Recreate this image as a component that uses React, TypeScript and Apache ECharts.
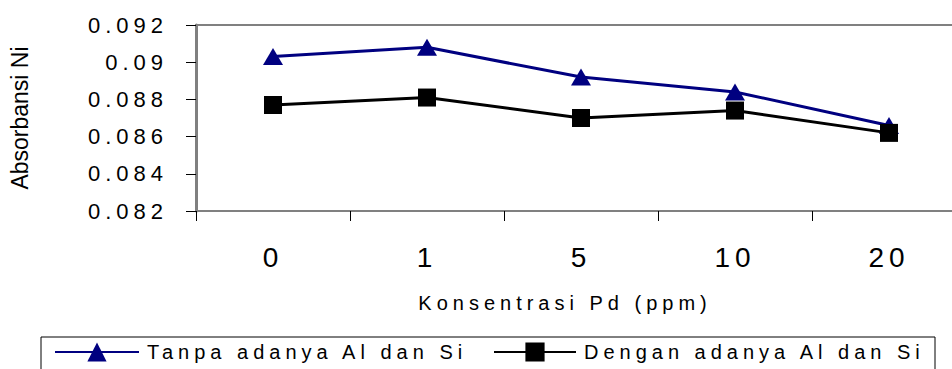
import React, { useEffect, useRef } from "react";
import * as echarts from "echarts";

const categories = ["0", "1", "5", "10", "20"];
const tanpaValues = [0.0903, 0.0908, 0.0892, 0.0884, 0.0866];
const denganValues = [0.0877, 0.0881, 0.087, 0.0874, 0.0862];
const seriesNames = ["Tanpa adanya Al dan Si", "Dengan adanya Al dan Si"];
const yMin = 0.082;
const yMax = 0.092;
const yStep = 0.002;

export default function App() {
  const ref = useRef<HTMLDivElement>(null);
  useEffect(() => {
    if (!ref.current) return;
    const chart = echarts.init(ref.current, undefined, { renderer: "svg" });
    const legendText = { fontFamily: "Arial", fontSize: 20, color: "#000", padding: [0, 0, 0, 3] };
    chart.setOption({
      animation: false,
      backgroundColor: "#fff",
      grid: {
        left: 196,
        top: 25,
        width: 770,
        height: 186,
        show: true,
        borderColor: "#808080",
        borderWidth: 2,
        containLabel: false,
      },
      xAxis: {
        type: "category",
        data: categories,
        boundaryGap: true,
        name: "Konsentrasi Pd (ppm)",
        nameLocation: "middle",
        nameGap: 82,
        nameTextStyle: { fontFamily: "Arial", fontSize: 20, color: "#000", padding: [0, 32, 0, 0] },
        axisLine: { show: true, lineStyle: { color: "#808080", width: 2 } },
        axisTick: { show: true, length: 10, interval: 0, lineStyle: { color: "#000", width: 1 } },
        axisLabel: { interval: 0, margin: 32, fontFamily: "Helvetica", fontSize: 28, color: "#000" },
        splitLine: { show: false },
      },
      yAxis: {
        type: "value",
        min: yMin,
        max: yMax,
        interval: yStep,
        name: "Absorbansi Ni",
        nameLocation: "middle",
        nameRotate: 90,
        nameGap: 165,
        nameTextStyle: { fontFamily: "Liberation Sans", fontSize: 23, color: "#000" },
        axisLine: { show: true, lineStyle: { color: "#808080", width: 3 } },
        axisTick: { show: true, length: 10, lineStyle: { color: "#000", width: 1 } },
        axisLabel: {
          margin: 28,
          fontFamily: "Arial",
          fontSize: 22,
          color: "#000",
          formatter: (v: number) => String(+v.toFixed(3)),
        },
        splitLine: { show: false },
      },
      legend: [
        {
          data: [seriesNames[0]],
          left: 49,
          top: 337,
          itemWidth: 84,
          itemHeight: 24,
          itemGap: 0,
          lineStyle: { width: 2 },
          textStyle: legendText,
        },
        {
          data: [seriesNames[1]],
          left: 488,
          top: 337,
          itemWidth: 82,
          itemHeight: 24,
          itemGap: 0,
          lineStyle: { width: 2 },
          textStyle: legendText,
        },
      ],
      graphic: [
        {
          type: "rect",
          shape: { x: 41, y: 337, width: 894, height: 50 },
          style: { fill: "none", stroke: "#000", lineWidth: 1 },
          silent: true,
        },
      ],
      series: [
        {
          name: seriesNames[0],
          type: "line",
          data: tanpaValues,
          symbol: "triangle",
          symbolSize: [20, 17],
          showAllSymbol: true,
          itemStyle: { color: "#000080" },
          lineStyle: { color: "#000080", width: 3 },
          z: 2,
        },
        {
          name: seriesNames[1],
          type: "line",
          data: denganValues,
          symbol: "rect",
          symbolSize: 18,
          showAllSymbol: true,
          itemStyle: { color: "#000" },
          lineStyle: { color: "#000", width: 3 },
          z: 3,
        },
      ],
    });
    return () => chart.dispose();
  }, []);
  return (
    <>
      <style>{`
        #chart svg text { letter-spacing: 5px; }
        #chart svg text[style*="Liberation"] { letter-spacing: 0; }
      `}</style>
      <div
        id="chart"
        ref={ref}
        style={{ position: "fixed", left: 0, top: 0, width: 990, height: 369, background: "#fff" }}
      />
    </>
  );
}
